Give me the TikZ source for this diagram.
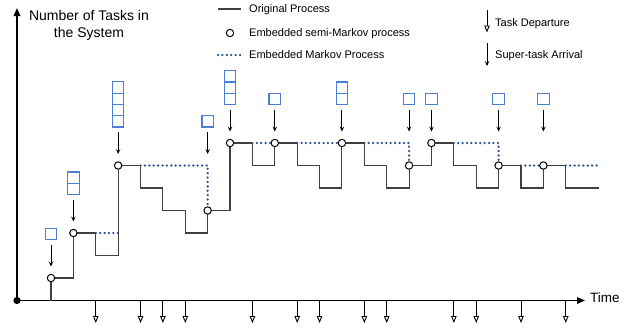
\documentclass[tikz,border=0pt]{standalone}
\usepackage{fontspec}
\setmainfont{Liberation Sans}
\usepackage{tikz}
\usetikzlibrary{arrows.meta}

\definecolor{taskblue}{HTML}{4A7FD4}
\definecolor{markovblue}{HTML}{284C8C}
\definecolor{procgray}{HTML}{404040}

\tikzset{
	axis/.style={line width=1.8pt,-{Triangle[length=8pt,width=6.5pt]}},
	orig/.style={procgray,line width=1.1pt},
	markov/.style={markovblue,line width=2.5pt,line cap=round,dash pattern=on 0pt off 4.4pt},
	embpt/.style={circle,draw=black,fill=white,line width=1pt,minimum size=7.4pt,inner sep=0pt},
	arrival/.style={line width=0.9pt,-{Stealth[length=5pt,width=4.5pt,inset=2pt]}},
	departure/.style={line width=0.9pt,-{Triangle[open,length=7pt,width=5.5pt]}},
	taskbox/.style={draw=taskblue,line width=1.2pt,minimum width=11.5pt,minimum height=11.3pt,inner sep=0pt},
	legtext/.style={anchor=base west,inner sep=0pt,font=\fontsize{11}{13}\selectfont},
	bigtext/.style={inner sep=0pt,font=\fontsize{14}{17}\selectfont}
}

\begin{document}
\begin{tikzpicture}[x=1pt,y=-1pt]
	\useasboundingbox (0,0) rectangle (636,332);
	% axes
	\coordinate (O) at (17,300.5);
	\coordinate (ytip) at (17,8);
	\coordinate (xtip) at (585,300.5);
	\draw[axis] (O) -- (ytip);
	\draw[axis] (O) -- (xtip);
	\fill (O) circle (3.6);
	\node[bigtext,anchor=base] (ylab1) at (89,20) {Number of Tasks in};
	\node[bigtext,anchor=base] (ylab2) at (89,37.5) {the System};
	\node[bigtext,anchor=base west,font=\fontsize{13.5}{16}\selectfont] (xlab) at (590,302) {Time};
	% legend
	\draw[orig] (218,9) -- (241,9);
	\node[legtext] (legorig) at (249,12.7) {Original Process};
	\node[embpt] (legpt) at (230,33) {};
	\node[legtext] (legsemi) at (249,36.8) {Embedded semi-Markov process};
	\draw[markov] (218,55) -- (241,55);
	\node[legtext] (legmark) at (249,58.5) {Embedded Markov Process};
	\coordinate (legdepS) at (487,10);
	\coordinate (legdepE) at (487,32.5);
	\draw[departure] (legdepS) -- (legdepE);
	\node[legtext] (legdep) at (495,26.5) {Task Departure};
	\coordinate (legarrS) at (487,43);
	\coordinate (legarrE) at (487,66);
	\draw[arrival] (legarrS) -- (legarrE);
	\node[legtext] (legarr) at (495,58.3) {Super-task Arrival};
	% the process, one unit = one step
	\begin{scope}[shift={(51,300.5)},x=22.38pt,y=22.5pt]
		\draw[orig] (0,0) |- (1,1) |- (2,3) |- (3,2) |- (4,6) |- (5,5) |- (6,4) |- (7,3) |- (8,4)
			|- (9,7) |- (10,6) |- (11,7) |- (12,6) |- (13,5) |- (14,7) |- (15,6) |- (16,5) |- (17,6)
			|- (18,7) |- (19,6) |- (20,5) |- (21,6) |- (22,5) |- (23,6) |- (24.5,5);
		\draw[markov] (2,3) -- (3,3);
		\draw[markov] (4,6) -- (7,6) -- (7,4);
		\draw[markov] (9,7) -- (10,7);
		\draw[markov] (11,7) -- (13,7);
		\draw[markov] (14,7) -- (16,7) -- (16,6);
		\draw[markov] (18,7) -- (20,7) -- (20,6);
		\draw[markov] (21,6) -- (22,6);
		\draw[markov] (23,6) -- (24.45,6);
		\foreach \i/\k [count=\c] in {0/1,1/3,3/6,7/4,8/7,10/7,13/7,16/6,17/7,20/6,22/6}
			\node[embpt] (s\c) at (\i,\k) {};
		\foreach \i in {2,4,5,6,9,11,12,14,15,18,19,21,23}{
			\coordinate (depS\i) at (\i,0);
			\coordinate (depE\i) at (\i,-1);
			\draw[departure] (depS\i) -- (depE\i);
		}
		\foreach \i/\k/\n in {0/1/1,1/3/2,3/6/4,7/6/1,8/7/3,10/7/1,13/7/2,16/7/1,17/7/1,20/7/1,22/7/1}{
			\coordinate (arrE\i) at ([yshift=11.5pt]\i,\k);
			\coordinate (arrS\i) at ([yshift=22pt]arrE\i);
			\draw[arrival] (arrS\i) -- (arrE\i);
			\foreach \j in {1,...,\n}
				\node[taskbox] (box\i-\j) at ([yshift={5pt+(\j-0.5)*11.3pt}]arrS\i) {};
		}
	\end{scope}
\end{tikzpicture}
\end{document}
